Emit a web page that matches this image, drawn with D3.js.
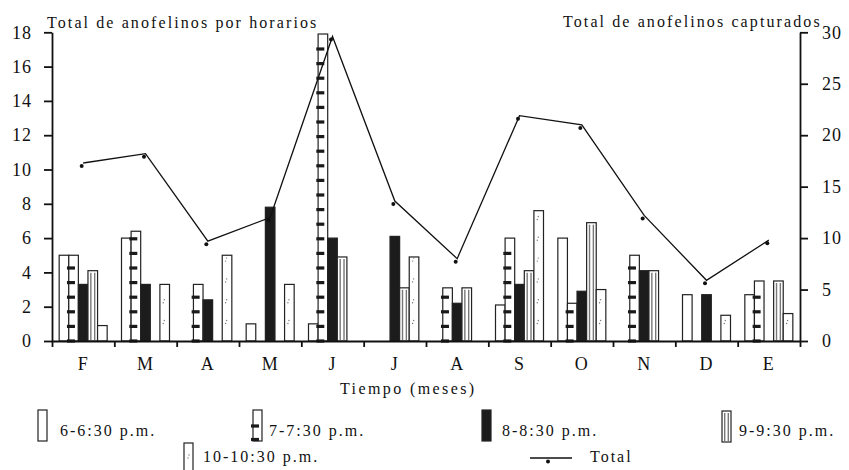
<!DOCTYPE html>
<html>
<head>
<meta charset="utf-8">
<script src="https://cdn.jsdelivr.net/npm/d3@7"></script>
<style>
  body { margin: 0; background: #fff; }
  text { font-family: "Liberation Serif", "DejaVu Serif", serif; fill: #111; }
</style>
</head>
<body>
<div id="chart"></div>
<script>
// Data
const months = ['F', 'M', 'A', 'M', 'J', 'J', 'A', 'S', 'O', 'N', 'D', 'E'];
const seriesNames = ['6-6:30 p.m.', '7-7:30 p.m.', '8-8:30 p.m.', '9-9:30 p.m.', '10-10:30 p.m.'];
const s6 = [5, 6, 0, 1, 1, 0, 0, 2.1, 6, 0, 2.7, 2.7];
const s7 = [5, 6.4, 3.3, 0, 17.9, 0, 3.1, 6, 2.2, 5, 0, 3.5];
const s8 = [3.3, 3.3, 2.4, 7.8, 6, 6.1, 2.2, 3.3, 2.9, 4.1, 2.7, 0];
const s9 = [4.1, 0, 0, 0, 4.9, 3.1, 3.1, 4.1, 6.9, 4.1, 0, 3.5];
const s10 = [0.9, 3.3, 5, 3.3, 0, 4.9, 0, 7.6, 3.0, 0, 1.5, 1.6];
const totals = [17.3, 18.2, 9.7, 12, 29.6, 13.6, 8.0, 21.9, 21.0, 12.2, 5.9, 9.8];
const leftTicks = [0, 2, 4, 6, 8, 10, 12, 14, 16, 18];
const rightTicks = [0, 5, 10, 15, 20, 25, 30];

const series = [s6, s7, s8, s9, s10];

const dimensions = {
  width: 849,
  height: 470,
  left: 52,
  right: 800,
  top: 32.3,
  bottom: 341
};

const drawChart = () => {
  const svg = d3.select('#chart')
    .append('svg')
    .attr('width', dimensions.width)
    .attr('height', dimensions.height);

  // Scales
  const x0 = d3.scaleBand()
    .domain(d3.range(months.length))
    .range([dimensions.left, dimensions.right]);
  const x1 = d3.scaleBand()
    .domain(d3.range(series.length))
    .range([x0.bandwidth() * 0.115, x0.bandwidth() * 0.885]);
  const xEdges = d3.scaleLinear()
    .domain([0, months.length])
    .range([dimensions.left, dimensions.right]);
  const yL = d3.scaleLinear().domain([0, 18]).range([dimensions.bottom, dimensions.top]);
  const yR = d3.scaleLinear().domain([0, 30]).range([dimensions.bottom, dimensions.top]);

  const barData = months.flatMap((m, i) => series.map((s, j) => ({ i, j, v: s[i] })))
    .filter(d => d.v > 0);

  const bx = d => x0(d.i) + x1(d.j);
  const bw = x1.bandwidth();

  // Bars
  const bars = svg.append('g');
  bars.selectAll('rect')
    .data(barData)
    .join('rect')
    .attr('x', bx)
    .attr('y', d => yL(d.v))
    .attr('width', bw)
    .attr('height', d => yL(0) - yL(d.v))
    .attr('fill', d => d.j === 2 ? '#1c1c1c' : '#fff')
    .attr('stroke', '#222')
    .attr('stroke-width', 1.2);

  // 7-7:30 horizontal dashes
  const dashStep = 14.6;
  const dashes = barData.filter(d => d.j === 1)
    .flatMap(d => d3.range(0, yL(0) - yL(d.v) - 4, dashStep).map(off => ({ d, off })));
  bars.selectAll('rect.dash')
    .data(dashes)
    .join('rect')
    .classed('dash', true)
    .attr('x', e => bx(e.d) - 1.8)
    .attr('y', e => yL(0) - e.off - 1.6)
    .attr('width', 8)
    .attr('height', 3.2)
    .attr('fill', '#1a1a1a');

  // 9-9:30 inner vertical lines
  const inner = barData.filter(d => d.j === 3).flatMap(d => [0.3, 0.7].map(f => ({ d, f })));
  bars.selectAll('line.inner')
    .data(inner)
    .join('line')
    .classed('inner', true)
    .attr('x1', e => bx(e.d) + bw * e.f)
    .attr('x2', e => bx(e.d) + bw * e.f)
    .attr('y1', e => yL(e.d.v) + 2)
    .attr('y2', yL(0))
    .attr('stroke', '#777')
    .attr('stroke-width', 1.4);

  // 10-10:30 specks
  const specks = barData.filter(d => d.j === 4)
    .flatMap(d => d3.range(19, yL(0) - yL(d.v) - 2, 20.8).map(off => ({ d, off })));
  const speckG = bars.selectAll('g.speck')
    .data(specks)
    .join('g')
    .classed('speck', true)
    .attr('transform', e => `translate(${bx(e.d) + bw * 0.35}, ${yL(0) - e.off})`);
  speckG.append('circle').attr('cx', 0).attr('cy', 1.5).attr('r', 0.7).attr('fill', '#777');
  speckG.append('circle').attr('cx', 1).attr('cy', -1.5).attr('r', 0.7).attr('fill', '#777');

  // Axes
  const leftAxis = svg.append('g')
    .attr('transform', `translate(${dimensions.left}, 0)`)
    .call(d3.axisLeft(yL).tickValues(leftTicks).tickSize(8).tickSizeOuter(0).tickPadding(12));

  const rightAxis = svg.append('g')
    .attr('transform', `translate(${dimensions.right}, 0)`)
    .call(d3.axisRight(yR).tickValues(rightTicks).tickSize(8).tickSizeOuter(0).tickPadding(14));

  const edgeAxis = svg.append('g')
    .attr('transform', `translate(0, ${dimensions.bottom})`)
    .call(d3.axisBottom(xEdges).tickValues(d3.range(months.length + 1)).tickSize(6).tickSizeOuter(0).tickFormat(''));

  const monthAxis = svg.append('g')
    .attr('transform', `translate(0, ${dimensions.bottom})`)
    .call(d3.axisBottom(x0).tickSize(0).tickPadding(16).tickFormat(i => months[i]));
  monthAxis.select('.domain').remove();

  [leftAxis, rightAxis, edgeAxis].forEach(g => {
    g.selectAll('.domain, line').attr('stroke', '#111').attr('stroke-width', 1.8);
  });
  [leftAxis, rightAxis, monthAxis].forEach(g => {
    g.selectAll('text')
      .style('font-family', '"Liberation Serif", serif')
      .style('font-size', '18px')
      .style('letter-spacing', '1px')
      .attr('fill', '#111');
  });

  // Total line
  const line = d3.line()
    .x((d, i) => x0(i) + x0.bandwidth() / 2)
    .y(d => yR(d));
  svg.append('path')
    .datum(totals)
    .attr('d', line)
    .attr('fill', 'none')
    .attr('stroke', '#111')
    .attr('stroke-width', 1.3);
  svg.append('g')
    .selectAll('circle')
    .data(totals)
    .join('circle')
    .attr('cx', (d, i) => x0(i) + x0.bandwidth() / 2 - 1.5)
    .attr('cy', d => yR(d) + 3)
    .attr('r', 2)
    .attr('fill', '#111');

  // Titles
  const label = (x, y, txt, spacing) => svg.append('text')
    .attr('x', x)
    .attr('y', y)
    .style('font-size', '16px')
    .style('letter-spacing', spacing + 'px')
    .text(txt);

  label(47, 28, 'Total de anofelinos por horarios', 2.1);
  label(563, 27, 'Total de anofelinos capturados', 2.1);
  label(340, 394, 'Tiempo (meses)', 2.4);

  // Legend
  const legendPos = [
    { ix: 38, iy: 410, tx: 60, ty: 436 },
    { ix: 253, iy: 410, tx: 269, ty: 436 },
    { ix: 482, iy: 410, tx: 502, ty: 436 },
    { ix: 722, iy: 411, tx: 739, ty: 436 },
    { ix: 184, iy: 443, tx: 203, ty: 462 }
  ];
  const legend = svg.append('g');
  seriesNames.forEach((name, j) => {
    const p = legendPos[j];
    const h = 31;
    legend.append('rect')
      .attr('x', p.ix)
      .attr('y', p.iy)
      .attr('width', 9)
      .attr('height', h)
      .attr('fill', j === 2 ? '#1c1c1c' : '#fff')
      .attr('stroke', '#222')
      .attr('stroke-width', 1.2);
    if (j === 1) {
      [16, 29.5].forEach(off => legend.append('rect')
        .attr('x', p.ix - 2).attr('y', p.iy + off - 1.6)
        .attr('width', 8).attr('height', 3.2).attr('fill', '#1a1a1a'));
    }
    if (j === 3) {
      [0.3, 0.7].forEach(f => legend.append('line')
        .attr('x1', p.ix + 9 * f).attr('x2', p.ix + 9 * f)
        .attr('y1', p.iy + 2).attr('y2', p.iy + h)
        .attr('stroke', '#777').attr('stroke-width', 1.4));
    }
    if (j === 4) {
      legend.append('circle').attr('cx', p.ix + 4).attr('cy', p.iy + 15).attr('r', 0.7).attr('fill', '#777');
      legend.append('circle').attr('cx', p.ix + 5).attr('cy', p.iy + 12).attr('r', 0.7).attr('fill', '#777');
    }
    legend.append('text')
      .attr('x', p.tx)
      .attr('y', p.ty)
      .style('font-size', '16px')
      .style('letter-spacing', '2px')
      .text(name);
  });
  legend.append('line')
    .attr('x1', 530).attr('x2', 572)
    .attr('y1', 458).attr('y2', 458)
    .attr('stroke', '#111').attr('stroke-width', 1.3);
  legend.append('circle').attr('cx', 548).attr('cy', 461.5).attr('r', 2).attr('fill', '#111');
  legend.append('text')
    .attr('x', 590)
    .attr('y', 462)
    .style('font-size', '16px')
    .style('letter-spacing', '2px')
    .text('Total');
}

drawChart();
</script>
</body>
</html>
